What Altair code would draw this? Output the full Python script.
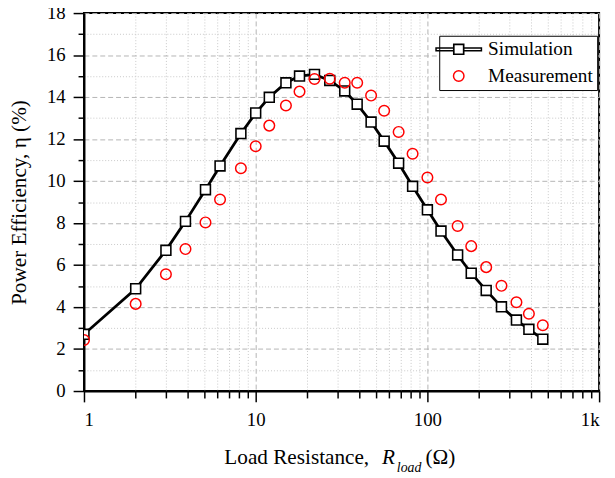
import altair as alt
import pandas as pd

# ---- data ----
resistance = [1, 2, 3, 3.9, 5.1, 6.2, 8.2, 10, 12, 15, 18, 22, 27, 33, 39, 47,
              56, 68, 82, 100, 120, 150, 180, 220, 270, 330, 390, 470]
simulation = [2.7, 4.87, 6.70, 8.08, 9.59, 10.72, 12.26, 13.24, 13.99, 14.68,
              15.0, 15.08, 14.79, 14.29, 13.66, 12.81, 11.9, 10.85, 9.75, 8.63,
              7.62, 6.48, 5.61, 4.79, 4.01, 3.38, 2.94, 2.47]
measurement = [2.43, 4.15, 5.56, 6.76, 8.03, 9.12, 10.61, 11.66, 12.64, 13.6,
               14.26, 14.86, 14.87, 14.68, 14.68, 14.07, 13.35, 12.34, 11.3, 10.17,
               9.12, 7.86, 6.90, 5.90, 5.01, 4.23, 3.68, 3.13]
series_names = ["Simulation", "Measurement"]
x_major = [1, 10, 100, 1000]
x_minor = [2, 3, 4, 5, 6, 7, 8, 9, 20, 30, 40, 50, 60, 70, 80, 90,
           200, 300, 400, 500, 600, 700, 800, 900]
y_major = [0, 2, 4, 6, 8, 10, 12, 14, 16, 18]
y_minor = [1, 3, 5, 7, 9, 11, 13, 15, 17]
x_title_parts = ["Load Resistance,", "R", "load", "(Ω)"]
y_title = "Power Efficiency, η (%)"

FONT = "Liberation Serif"

sim_df = pd.DataFrame({"r": resistance, "v": simulation})
meas_df = pd.DataFrame({"r": resistance, "v": measurement})
legend_df = pd.DataFrame({"series": series_names,
                          "r": [resistance[0], resistance[0]],
                          "v": [simulation[0], measurement[0]]})

xscale = alt.Scale(type="log", domain=[1, 1000], nice=False)
yscale = alt.Scale(domain=[0, 18], nice=False)

major_grid = dict(grid=True, gridDash=[5, 3], gridColor="#b4b4b4", gridWidth=1)
minor_grid = dict(grid=True, gridDash=[1, 2], gridColor="#c8c8c8", gridWidth=1)
label_style = dict(labelFont=FONT, labelFontSize=19, labelColor="black")

x_major_axis = alt.Axis(values=x_major, orient="bottom", tickSize=11, tickWidth=1.5,
                        labelPadding=9, title=None,
                        labelExpr="datum.value >= 1000 ? '1k' : format(datum.value, 'd')",
                        **label_style, **major_grid)
x_minor_axis = alt.Axis(values=x_minor, orient="bottom", tickSize=7, tickWidth=1.5,
                        labels=False, domain=False, title=None, **minor_grid)
y_major_axis = alt.Axis(values=y_major, orient="left", tickSize=11, tickWidth=1.5,
                        labelPadding=8, title=y_title, titlePadding=16,
                        titleFont=FONT, titleFontSize=21.5, titleFontWeight="normal",
                        titleColor="black", **label_style, **major_grid)
y_minor_axis = alt.Axis(values=y_minor, orient="left", tickSize=6, tickWidth=1.5,
                        labels=False, domain=False, title=None, **minor_grid)

line = alt.Chart(sim_df).mark_line(color="black", strokeWidth=2.8, clip=True).encode(
    x=alt.X("r:Q", scale=xscale, axis=x_major_axis),
    y=alt.Y("v:Q", scale=yscale, axis=y_major_axis),
)

sim_pts = alt.Chart(sim_df).mark_point(
    shape="square", filled=True, fill="white", stroke="black", strokeWidth=1.6,
    size=100, opacity=1, clip=True
).encode(
    x=alt.X("r:Q", scale=xscale, axis=x_minor_axis),
    y=alt.Y("v:Q", scale=yscale, axis=y_minor_axis),
)

meas_pts = alt.Chart(meas_df).mark_point(
    shape="circle", filled=False, stroke="red", strokeWidth=1.5, size=115,
    opacity=1, clip=True
).encode(
    x=alt.X("r:Q", scale=xscale, axis=None),
    y=alt.Y("v:Q", scale=yscale, axis=None),
)

# legend glyph for the simulation series: thick line through an open square
sim_symbol = ("M-3.4,-0.27H0.18V0.27H-3.4Z M2.22,-0.27H5.8V0.27H2.22Z "
              "M0.18,-1.02H2.22V1.02H0.18Z M0.22,-0.98V0.98H2.18V-0.98Z")
meas_symbol = ("M2.26,0A1.06,1.06 0 1,1 0.14,0A1.06,1.06 0 1,1 2.26,0Z")

leg = alt.Legend(title=None, orient="none", legendX=360, legendY=23,
                 fillColor="white", strokeColor="black", padding=4,
                 labelFont=FONT, labelFontSize=19.5, labelColor="black",
                 symbolSize=100, symbolStrokeWidth=1.5,
                 labelOffset=26, rowPadding=6, cornerRadius=0)

legend_layer = alt.Chart(legend_df).mark_point(opacity=0, clip=True).encode(
    x=alt.X("r:Q", scale=xscale, axis=None),
    y=alt.Y("v:Q", scale=yscale, axis=None),
    shape=alt.Shape("series:N", scale=alt.Scale(domain=series_names, range=[sim_symbol, meas_symbol]), legend=leg),
    stroke=alt.Stroke("series:N", scale=alt.Scale(domain=series_names, range=["black", "red"]), legend=leg),
    fill=alt.Fill("series:N", scale=alt.Scale(domain=series_names, range=["black", "transparent"]), legend=leg),
)

def title_text(txt, x, y, size, style, align="left"):
    return alt.Chart(pd.DataFrame({"t": [txt]})).mark_text(
        align=align, baseline="alphabetic", font=FONT, fontSize=size,
        fontStyle=style, color="black"
    ).encode(x=alt.value(x), y=alt.value(y), text="t:N")

t1 = title_text(x_title_parts[0], 289, 457, 21.5, "normal", "right")
t2 = title_text(x_title_parts[1], 302, 457, 21.5, "italic")
t3 = title_text(x_title_parts[2], 317, 465, 14, "italic")
t4 = title_text(x_title_parts[3], 346, 457, 21.5, "normal")

chart = alt.layer(line, sim_pts, meas_pts, legend_layer, t1, t2, t3, t4).resolve_axis(
    x="independent", y="independent"
).properties(
    width=522, height=383,
    autosize=alt.AutoSizeParams(type="none"),
    padding={"left": 77, "top": 2, "right": 8, "bottom": 85},
).configure_view(
    stroke="black", strokeWidth=2
).configure_axis(
    labelFont=FONT, labelFontSize=19, labelColor="black",
    titleFont=FONT, titleFontSize=21.5, titleFontWeight="normal", titleColor="black",
    domainColor="black", domainWidth=2, tickColor="black",
)

chart.save("out.html", embed_options={"renderer": "svg", "actions": False})
